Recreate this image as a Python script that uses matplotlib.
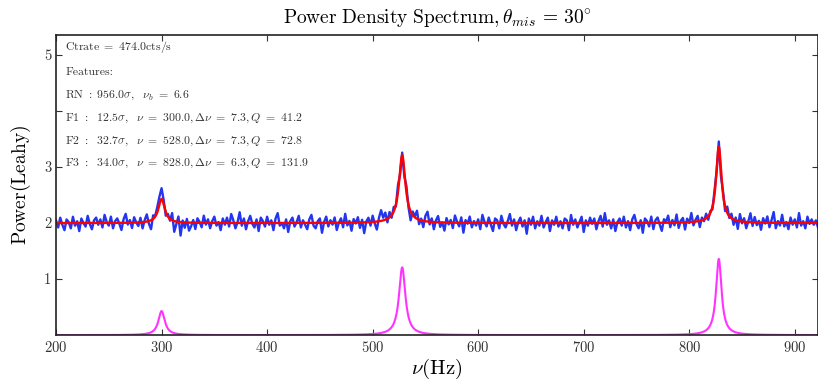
"""
Power density spectrum with three QPO features (Lorentzian fit)
"""

import numpy as np
from matplotlib import pyplot as plt

plt.rcParams['font.family'] = 'serif'
plt.rcParams['font.serif'] = ['cmr10', 'DejaVu Serif']
plt.rcParams['mathtext.fontset'] = 'cm'
plt.rcParams['axes.unicode_minus'] = False
plt.rcParams['axes.formatter.use_mathtext'] = True

# Fitted features (centre, FWHM, peak height above the baseline)
peak_nu = [300.0, 528.0, 828.0]
peak_fwhm = [7.3, 7.3, 6.3]
peak_amp = [0.43, 1.21, 1.36]
baseline = 2.0

# Measured spectrum: residuals from the fit, 2 Hz bins from 200 Hz (units of 0.01)
resid = [
    3, -5, 6, -2, -8, 4, 1, -6, 7, -3, 2, -9, 5, 0, -4, 8, -1, -7, 3, 6,
    -2, 4, -5, 9, 1, -3, 7, -6, 2, 5, -1, -8, 4, 10, -2, 3, -6, 6, 0, -4,
    5, -7, 2, 8, -3, -10, 4, 1, 6, 9, 12, 5, -4, 3, -2, 8, -12, -3, 6, -15,
    2, -6, 4, -9, -4, 3, -7, 5, 1, -5, 8, -2, 4, -6, 2, 7, -3, 1, -8, 5,
    -2, 6, -4, 10, 3, -6, 1, 12, -3, 5, -7, 2, 8, -1, -5, 4, -9, 6, 2, -4,
    7, -2, 3, -8, 5, 11, -3, 0, -6, 4, -10, 2, 6, -4, 1, 8, -5, 3, -2, -7,
    4, 9, -3, -6, 2, 5, -11, 1, 7, -4, 3, -2, 6, -8, 0, 5, -5, 10, -3, 2,
    -9, 4, -1, 6, -6, 3, -12, 1, 5, -4, 7, -2, -9, 4, 12, 3, 8, -4, 6, -3,
    5, -2, 8, -4, 3, -6, 7, -3, -10, 4, 1, 9, -5, 2, -7, 6, 11, -3, 4, -8,
    2, 7, -5, 0, -9, 5, -2, 3, -6, 8, 1, -4, 6, -11, 3, -1, 7, -5, 2, -3,
    4, -7, 9, 1, -4, 6, -2, -9, 5, 3, -6, 8, -1, -5, 2, 10, -3, 4, -8, 1,
    6, -4, 3, -12, 5, -2, 7, -6, 2, -3, 8, -5, 1, 6, -9, 3, -2, 7, -4, 2,
    -6, 5, 3, -8, 9, -2, 4, -5, 1, 7, -10, 3, -3, 6, -1, 5, -7, 2, 8, -4,
    11, -2, 3, -6, 4, -9, 1, 5, -3, 7, -5, 2, -8, 4, 9, -1, -6, 3, -11, 5,
    2, -4, 7, -7, 3, 6, -2, -9, 4, 1, 8, -5, 3, -3, 9, -6, 2, 5, -8, 4,
    -1, 10, -4, 2, 6, -7, 3, -2, 5, -4, 2, -3, 4, -2, 6, -8, 3, -5, 7, -2,
    5, -6, 3, -9, 8, -2, 4, -7, 1, 10, -4, 6, -3, 2, -8, 5, -1, 7, -5, 3,
    12, -6, 2, -3, 9, -4, 1, -7, 6, -2, 4, -5, 11, -3, 2, -6, 7, -1, 4, -2,
    3, -5,
]

info_lines = [
    r'$\mathrm{Ctrate}\ =\ 474.0\mathrm{cts/s}$',
    'Features:',
    r'$\mathrm{RN}\ :\ 956.0\sigma,\ \ \nu_b\ =\ 6.6$',
    r'$\mathrm{F1}\ :\ \ 12.5\sigma,\ \ \nu\ =\ 300.0, \Delta\nu\ =\ 7.3, Q\ =\ 41.2$',
    r'$\mathrm{F2}\ :\ \ 32.7\sigma,\ \ \nu\ =\ 528.0, \Delta\nu\ =\ 7.3, Q\ =\ 72.8$',
    r'$\mathrm{F3}\ :\ \ 34.0\sigma,\ \ \nu\ =\ 828.0, \Delta\nu\ =\ 6.3, Q\ =\ 131.9$',
]


def lorentz(nu, nu0, fwhm, amp):
    hw = fwhm / 2.0
    return amp * hw**2 / ((nu - nu0)**2 + hw**2)


nu_fine = np.linspace(200, 925, 4000)
features = sum(lorentz(nu_fine, c, w, a) for c, w, a in zip(peak_nu, peak_fwhm, peak_amp))

nu_bins = 200 + 2 * np.arange(len(resid))
model_bins = baseline + sum(lorentz(nu_bins, c, w, a) for c, w, a in zip(peak_nu, peak_fwhm, peak_amp))
power = model_bins + 0.016 * np.array(resid)

fig = plt.figure(figsize=(8.18, 3.87), dpi=100)
ax = fig.add_axes([0.0685, 0.134, 0.9315, 0.776])

ax.plot(nu_bins, power, color='#2236f0', lw=1.7)
ax.plot(nu_fine, baseline + features, color='red', lw=1.7)
ax.plot(nu_fine, features, color='#ff33ff', lw=1.5)

ax.set_xlim(200, 922)
ax.set_ylim(0, 5.36)
ax.set_xticks([200, 300, 400, 500, 600, 700, 800, 900])
ax.set_yticks([1, 2, 3, 4, 5])
ax.set_yticklabels(['1', '2', '3', '', '5'])
ax.tick_params(direction='in', top=True, right=True, length=4, labelsize=10.5, colors='#333333')
for s in ax.spines.values():
    s.set_linewidth(1.2)
    s.set_color('#222222')

ax.set_xlabel(r'$\nu(\mathrm{Hz})$', fontsize=15, labelpad=1)
ax.set_ylabel(r'$\mathrm{Power(Leahy)}$', fontsize=14, labelpad=8)
ax.set_title(r'$\mathrm{Power\ Density\ Spectrum}, \theta_{mis}\,=\,30^{\circ}$', fontsize=14, pad=8)

y_pos = [0.96, 0.877, 0.80, 0.723, 0.647, 0.573]
for y, line in zip(y_pos, info_lines):
    ax.text(0.012, y, line, transform=ax.transAxes, fontsize=8.5, va='center', color='#333333')

fig.savefig('out.png', dpi=100)
